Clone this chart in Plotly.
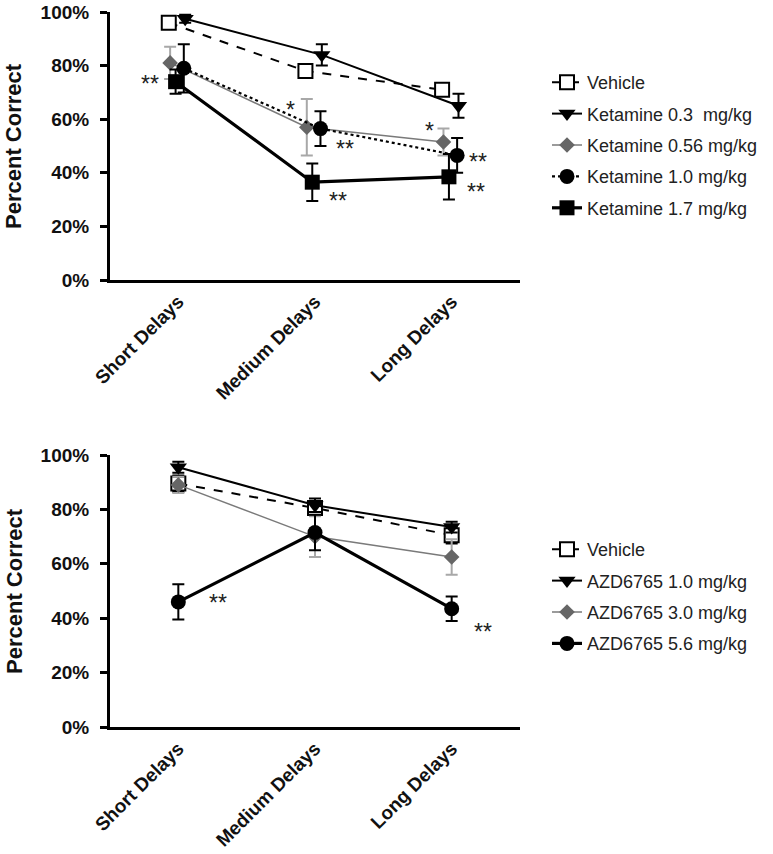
import plotly.graph_objects as go

# ---------------- data ----------------
categories = ["Short Delays", "Medium Delays", "Long Delays"]
y_ticks = [0, 20, 40, 60, 80, 100]
y_tick_labels = ["0%", "20%", "40%", "60%", "80%", "100%"]

ket_names = ["Vehicle", "Ketamine 0.3\u00a0 mg/kg", "Ketamine 0.56 mg/kg",
             "Ketamine 1.0 mg/kg", "Ketamine 1.7 mg/kg"]
ket_vehicle = [96, 78, 71]
ket_vehicle_err = [1.5, 1.5, 1.5]
ket_03 = [97.5, 84, 65]
ket_03_err = [1.5, 4, 4.5]
ket_056 = [81, 57, 51.5]
ket_056_err = [6, 10.5, 5]
ket_10 = [79, 56.5, 46.5]
ket_10_err = [9, 6.5, 6.5]
ket_17 = [74, 36.5, 38.5]
ket_17_err = [4.5, 7, 8.5]

azd_names = ["Vehicle", "AZD6765 1.0 mg/kg", "AZD6765 3.0 mg/kg", "AZD6765 5.6 mg/kg"]
azd_vehicle = [89.5, 80.5, 70.5]
azd_vehicle_err = [3, 2, 3]
azd_10 = [95.5, 81.5, 73.5]
azd_10_err = [2, 2.5, 2]
azd_30 = [89, 70, 62.5]
azd_30_err = [3, 7.5, 6.5]
azd_56 = [46, 71.5, 43.5]
azd_56_err = [6.5, 6.5, 4.5]

# significance marks: (category index + offset, value, text)
ket_marks = [(-0.21, 73, "**"), (0.82, 63.5, "*"), (1.22, 49, "**"), (1.17, 29.5, "**"),
             (1.84, 55.5, "*"), (2.19, 44, "**"), (2.18, 32.8, "**")]
azd_marks = [(0.29, 45.5, "**"), (2.23, 35, "**")]

# ---------------- style ----------------
W, H = 773, 854
FONT = "Liberation Sans, Arial, sans-serif"

def fx(p):                   # page pixel -> paper x
    return p / W

def fy(p):                   # page pixel -> paper y
    return 1 - p / H

STY = {
    "vehicle": dict(color="black", width=2, dash="dash", symbol="square", size=14,
                    fill="white", mline=2, err="black"),
    "low": dict(color="black", width=2, dash="solid", symbol="triangle-down", size=15,
                fill="black", mline=0, err="black"),
    "mid": dict(color="#7a7a7a", width=1.5, dash="solid", symbol="diamond", size=12,
                fill="#666666", mline=0, err="#a8a8a8"),
    "dot": dict(color="black", width=2.2, dash="dot", symbol="circle", size=15,
                fill="black", mline=0, err="black"),
    "high": dict(color="black", width=3.2, dash="solid", symbol="square", size=15,
                 fill="black", mline=0, err="black"),
    "high_circle": dict(color="black", width=3.2, dash="solid", symbol="circle", size=15,
                        fill="black", mline=0, err="black"),
}

fig = go.Figure()


def add(vals, err, name, st, offset, xa, ya, legend, rank):
    s = STY[st]
    fig.add_trace(go.Scatter(
        x=[i + offset for i in range(len(vals))], y=vals, name=name,
        mode="lines+markers",
        line=dict(color=s["color"], width=s["width"], dash=s["dash"]),
        marker=dict(symbol=s["symbol"], size=s["size"], color=s["fill"],
                    line=dict(color="black", width=s["mline"])),
        error_y=dict(type="data", array=err, color=s["err"], thickness=2, width=6),
        xaxis=xa, yaxis=ya, legend=legend, legendrank=rank, legendgroup=name + legend,
        cliponaxis=False, hoverinfo="skip"))


add(ket_vehicle, ket_vehicle_err, ket_names[0], "vehicle", -0.07, "x", "y", "legend", 1)
add(ket_03, ket_03_err, ket_names[1], "low", 0.05, "x", "y", "legend", 2)
add(ket_056, ket_056_err, ket_names[2], "mid", -0.06, "x", "y", "legend", 3)
add(ket_10, ket_10_err, ket_names[3], "dot", 0.04, "x", "y", "legend", 4)
add(ket_17, ket_17_err, ket_names[4], "high", -0.02, "x", "y", "legend", 5)

add(azd_vehicle, azd_vehicle_err, azd_names[0], "vehicle", 0, "x2", "y2", "legend2", 1)
add(azd_10, azd_10_err, azd_names[1], "low", 0, "x2", "y2", "legend2", 2)
add(azd_30, azd_30_err, azd_names[2], "mid", 0, "x2", "y2", "legend2", 3)
add(azd_56, azd_56_err, azd_names[3], "high_circle", 0, "x2", "y2", "legend2", 4)

xax = dict(range=[-0.5, 2.5], tickvals=[0, 1, 2], ticktext=categories, tickangle=-45,
           ticks="", showline=True, linewidth=3, linecolor="black", showgrid=False,
           zeroline=False, automargin=False,
           tickfont=dict(family=FONT, size=19, color="#111", weight="bold"))
yax = dict(range=[0, 100], tickvals=y_ticks, ticktext=y_tick_labels, ticks="outside",
           ticklen=7, tickwidth=3, tickcolor="black", showline=True, linewidth=3,
           linecolor="black", showgrid=False, zeroline=False, automargin=False,
           ticklabelstandoff=7,
           tickfont=dict(family=FONT, size=19, color="#111", weight="bold"))

annotations = []
for (x, y, t) in ket_marks:
    annotations.append(dict(x=x, y=y, xref="x", yref="y", text=t, showarrow=False,
                            font=dict(family=FONT, size=23, color="#222")))
for (x, y, t) in azd_marks:
    annotations.append(dict(x=x, y=y, xref="x2", yref="y2", text=t, showarrow=False,
                            font=dict(family=FONT, size=23, color="#222")))
for yc in [(12 + 280) / 2, (455 + 727) / 2]:
    annotations.append(dict(x=fx(14), y=fy(yc), xref="paper", yref="paper",
                            text="Percent Correct", textangle=-90, showarrow=False,
                            xanchor="center", yanchor="middle",
                            font=dict(family=FONT, size=22, color="#111", weight="bold")))

legend_common = dict(xanchor="left", yanchor="top", bgcolor="rgba(0,0,0,0)",
                     font=dict(family=FONT, size=18, color="#222"), tracegroupgap=5)

fig.update_layout(
    width=W, height=H, autosize=False,
    margin=dict(l=0, r=0, t=0, b=0, autoexpand=False),
    paper_bgcolor="white", plot_bgcolor="white",
    xaxis=dict(domain=[fx(110), fx(520)], anchor="y", **xax),
    yaxis=dict(domain=[fy(280), fy(12)], anchor="x", **yax),
    xaxis2=dict(domain=[fx(110), fx(520)], anchor="y2", **xax),
    yaxis2=dict(domain=[fy(727), fy(455)], anchor="x2", **yax),
    legend=dict(x=fx(547), y=fy(64), **legend_common),
    legend2=dict(x=fx(547), y=fy(531), **legend_common),
    annotations=annotations,
    showlegend=True,
)

fig.write_html("out.html",
               config={"displayModeBar": False},
               post_script="document.body.style.margin='0px';"
                           "document.body.style.overflow='hidden';")
